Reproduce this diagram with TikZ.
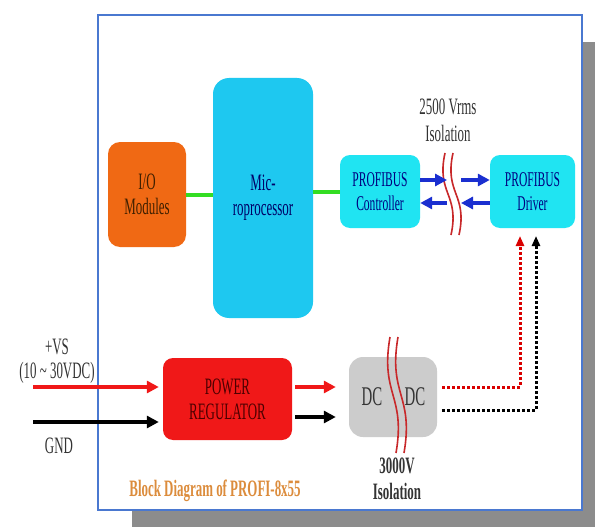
\documentclass[tikz,border=0pt]{standalone}
\usepackage{fontspec}
\setmainfont{Liberation Serif}[FakeStretch=0.55]
\usetikzlibrary{arrows.meta}
\definecolor{ioorange}{RGB}{240,105,20}
\definecolor{mcucyan}{RGB}{30,200,240}
\definecolor{buscyan}{RGB}{32,228,242}
\definecolor{pwrred}{RGB}{240,24,24}
\definecolor{dcgray}{RGB}{204,204,204}
\definecolor{framblue}{RGB}{74,120,208}
\definecolor{shadowgray}{RGB}{140,140,140}
\definecolor{arrblue}{RGB}{26,47,208}
\definecolor{linkgreen}{RGB}{51,221,34}
\definecolor{isored}{RGB}{200,40,42}
\definecolor{titletan}{RGB}{220,140,60}
\tikzset{
	blk/.style={rounded corners=12pt, inner sep=0pt, align=center, font=\fontsize{23.5}{25}\selectfont},
	txt/.style={inner sep=0pt, align=center, text=black!80, font=\fontsize{23.5}{25}\selectfont},
	link/.style={linkgreen, line width=4pt},
	fat/.style={line width=3.5pt, -{Triangle[length=12pt, width=12pt]}},
	dots/.style={line width=3pt, dash pattern=on 2.5pt off 2.5pt, -{Triangle[length=10pt, width=8pt]}},
	iso/.style={isored, line width=1.6pt},
}
\begin{document}
	\begin{tikzpicture}[x=1pt, y=-1pt]
		\useasboundingbox (0,0) rectangle (595,527);
		\fill[shadowgray] (132,42) rectangle (595,527);	% shadow
		\fill[white] (98,15) rectangle (582,510);
		\draw[framblue, line width=2.5pt] (98,15) rectangle (582,510);	% frame
		% blocks
		\node[blk, fill=ioorange, text=black!75!orange, minimum width=78pt, minimum height=105pt] (io) at (147,194.5) {I/O\\Modules};
		\node[blk, fill=mcucyan, text=blue!40!black, rounded corners=16pt, minimum width=100pt, minimum height=240pt] (mcu) at (263,198) {Mic-\\roprocessor};
		\node[blk, fill=buscyan, text=blue!50!black, rounded corners=10pt, font=\fontsize{21}{24}\selectfont, minimum width=80pt, minimum height=73pt] (ctrl) at (380,191.5) {PROFIBUS\\Controller};
		\node[blk, fill=buscyan, text=blue!50!black, rounded corners=10pt, font=\fontsize{21}{24}\selectfont, minimum width=85pt, minimum height=73pt] (drv) at (532.5,191.5) {PROFIBUS\\Driver};
		\node[blk, fill=pwrred, text=red!30!black, rounded corners=10pt, minimum width=129pt, minimum height=82pt] (pwr) at (227.5,399) {POWER\\REGULATOR};
		\node[blk, fill=dcgray, rounded corners=14pt, minimum width=88pt, minimum height=80pt] (dcdc) at (393,397) {};
		\node[txt, font=\fontsize{27}{29}\selectfont] (dcin) at (372,397) {DC};
		\node[txt, font=\fontsize{27}{29}\selectfont] (dcout) at (415,397) {DC};
		% labels
		\node[txt] (vs) at (57,347) {+VS};
		\node[txt] (range) at (57,373) {(10 \char`\~{} 30VDC)};
		\node[txt] (gnd) at (59,446) {GND};
		\node[txt] (iso25) at (448,107) {2500 Vrms};
		\node[txt] (iso25b) at (448,133) {Isolation};
		\node[txt, font=\bfseries\fontsize{23.5}{25}\selectfont] (iso30) at (397,466) {3000V};
		\node[txt, font=\bfseries\fontsize{23.5}{25}\selectfont] (iso30b) at (397,491) {Isolation};
		\node[txt, text=titletan, font=\bfseries\fontsize{23.5}{25}\selectfont] (title) at (215,491) {Block Diagram of PROFI-8x55};
		% isolation barriers
		\foreach \dx in {-4,4} {
			\draw[iso] ({449+\dx},153) .. controls ({440+\dx},194) and ({464+\dx},194) .. ({455+\dx},235);
			\draw[iso] ({394+\dx},337) .. controls ({384+\dx},395) and ({410+\dx},395) .. ({400+\dx},453);
		}
		% links
		\draw[link] (io.east) -- (mcu.west |- io.east);
		\draw[link] (mcu.east |- ctrl.west) -- (ctrl.west);
		\coordinate (gapL) at (447,0);
		\coordinate (gapR) at (461,0);
		\draw[fat, arrblue] (ctrl.east |- 0,180) -- (gapL |- 0,180);
		\draw[fat, arrblue] (gapR |- 0,180) -- (drv.west |- 0,180);
		\draw[fat, arrblue] (drv.west |- 0,203) -- (gapR |- 0,203);
		\draw[fat, arrblue] (gapL |- 0,203) -- (ctrl.east |- 0,203);
		% power path
		\coordinate (vsin) at (33,387);
		\coordinate (gndin) at (33,422);
		\draw[fat, pwrred] (vsin) -- ([xshift=-4pt]pwr.west |- vsin);
		\draw[fat, black] (gndin) -- ([xshift=-4pt]pwr.west |- gndin);
		\draw[fat, pwrred] ([xshift=3pt]pwr.east |- 0,387) -- ([xshift=-13pt]dcdc.west |- 0,387);
		\draw[fat, black] ([xshift=3pt]pwr.east |- 0,417) -- ([xshift=-13pt]dcdc.west |- 0,417);
		\coordinate (rtap) at (520,236);
		\coordinate (btap) at (536,236);
		\draw[dots, red!85!black] ([xshift=5pt]dcdc.east |- 0,387) -| (rtap);
		\draw[dots, black] ([xshift=5pt]dcdc.east |- 0,410) -| (btap);
	\end{tikzpicture}
\end{document}
